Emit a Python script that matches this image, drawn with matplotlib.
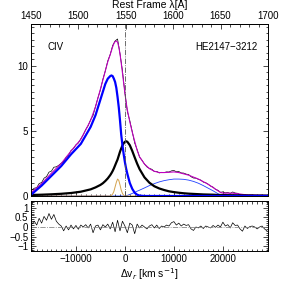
import numpy as np
import matplotlib
matplotlib.use("Agg")
import matplotlib.pyplot as plt
from matplotlib.ticker import MultipleLocator, FixedLocator, FuncFormatter

# ---- donnees ----
c_kms = 299792.458
lam0 = 1549.06  # CIV

v_data = np.arange(-19000, 29001, 500)
flux = [0.45, 0.60, 0.64, 0.96, 1.03, 1.37, 1.49, 1.83, 1.91, 2.21,
        2.24, 2.36, 2.52, 2.64, 2.97, 3.14, 3.49, 3.64, 3.93, 4.07,
        4.39, 4.70, 5.10, 5.40, 5.86, 6.18, 6.87, 7.54, 8.14, 8.95,
        9.60, 10.36, 10.86, 11.55, 11.90, 12.05, 10.92, 9.62, 7.92, 6.48,
        5.78, 4.94, 4.06, 3.56, 2.98, 2.74, 2.45, 2.23, 2.12, 2.05,
        1.88, 1.89, 1.77, 1.82, 1.80, 1.85, 1.84, 1.93, 1.96, 1.86,
        1.88, 1.77, 1.76, 1.68, 1.65, 1.48, 1.38, 1.37, 1.28, 1.22,
        1.07, 1.02, 0.90, 0.76, 0.68, 0.51, 0.44, 0.28, 0.32, 0.24,
        0.27, 0.20, 0.31, 0.23, 0.21, 0.10, 0.03, 0.12, 0.05, 0.08,
        0.08, 0.05, 0.01, 0.05, 0.07, 0.01, -0.03]
resid = [0.15, 0.30, 0.10, 0.45, 0.20, 0.55, 0.35, 0.70, 0.40, 0.65,
         0.30, 0.15, 0.05, -0.20, 0.05, -0.15, 0.10, -0.10, 0.08, -0.12,
         0.10, 0.00, 0.12, -0.05, 0.15, -0.30, 0.05, 0.10, -0.15, 0.12,
         0.00, 0.15, -0.10, 0.25, -0.25, 0.35, -0.20, 0.30, 0.05, -0.30,
         0.20, 0.10, -0.35, 0.15, -0.05, 0.10, 0.00, -0.10, 0.05, 0.12,
         -0.05, 0.10, -0.08, 0.05, 0.00, 0.10, 0.05, 0.22, 0.28, 0.10,
         0.20, 0.05, 0.15, 0.08, 0.12, -0.10, -0.18, 0.00, -0.05, 0.05,
         -0.08, 0.05, 0.00, -0.05, 0.08, -0.02, 0.10, 0.00, 0.25, 0.05,
         0.12, -0.05, 0.22, 0.08, 0.10, -0.10, -0.22, 0.05, -0.08, 0.02,
         0.05, 0.00, -0.10, 0.00, 0.05, -0.10, -0.20]

v_mod = [-19000, -17000, -15000, -13000, -11000, -9000, -7000, -6000, -5000, -4500,
         -4000, -3500, -3000, -2750, -2500, -2250, -2000, -1750, -1500, -1250,
         -1000, -750, -500, -250, 0, 250, 500, 1000, 1500, 2000,
         2500, 3000, 4000, 5000, 6000, 7000, 8000, 9000, 10000, 11000,
         12000, 13000, 14000, 15000, 16000, 17000, 18000, 19000, 19500, 20000,
         22000, 25000, 29000]
broad_blue = [0.15, 0.8, 1.55, 2.3, 3.2, 4.0, 5.3, 6.2, 7.4, 8.0,
              8.6, 9.0, 9.2, 9.25, 9.2, 9.0, 8.75, 8.3, 7.6, 6.8,
              5.8, 4.7, 3.9, 3.2, 2.6, 2.1, 1.7, 1.0, 0.55, 0.25,
              0.1, 0.03, 0, 0, 0, 0, 0, 0, 0, 0,
              0, 0, 0, 0, 0, 0, 0, 0, 0, 0,
              0, 0, 0]
lorentz = [0.08, 0.10, 0.13, 0.17, 0.23, 0.33, 0.51, 0.66, 0.85, 0.98,
           1.15, 1.35, 1.60, 1.75, 1.92, 2.12, 2.35, 2.58, 2.80, 3.10,
           3.40, 3.65, 3.88, 4.05, 4.16, 4.20, 4.16, 3.90, 3.46, 2.96,
           2.48, 2.06, 1.43, 1.02, 0.75, 0.58, 0.46, 0.36, 0.30, 0.25,
           0.21, 0.18, 0.16, 0.14, 0.12, 0.11, 0.10, 0.08, 0.08, 0.07,
           0.06, 0.04, 0.03]
narrow = [0, 0, 0, 0, 0, 0, 0, 0, 0, 0,
          0, 0, 0, 0.05, 0.15, 0.35, 0.70, 1.05, 1.30, 1.20,
          0.85, 0.45, 0.20, 0.06, 0, 0, 0, 0, 0, 0,
          0, 0, 0, 0, 0, 0, 0, 0, 0, 0,
          0, 0, 0, 0, 0, 0, 0, 0, 0, 0,
          0, 0, 0]
red_blue = [0, 0, 0, 0, 0, 0, 0, 0, 0, 0,
            0, 0, 0, 0, 0, 0, 0, 0, 0, 0,
            0, 0, 0, 0, 0, 0.02, 0.05, 0.12, 0.20, 0.28,
            0.37, 0.45, 0.62, 0.80, 0.95, 1.08, 1.18, 1.25, 1.30, 1.30,
            1.28, 1.22, 1.12, 0.98, 0.80, 0.60, 0.40, 0.18, 0.07, 0,
            0, 0, 0]
total = [0.30, 0.95, 1.75, 2.5, 3.45, 4.35, 5.8, 6.85, 8.2, 8.9,
         9.6, 10.3, 10.85, 11.15, 11.45, 11.7, 11.85, 11.9, 11.8, 11.45,
         10.9, 10.2, 9.45, 8.65, 7.9, 7.2, 6.6, 5.7, 4.9, 4.2,
         3.5, 3.0, 2.45, 2.1, 1.9, 1.8, 1.8, 1.82, 1.85, 1.8,
         1.7, 1.6, 1.45, 1.3, 1.1, 0.9, 0.65, 0.4, 0.28, 0.22,
         0.22, 0.08, 0.05]

lam_lim = (1450, 1700)
lam_ticks = [1450, 1500, 1550, 1600, 1650, 1700]
lam_minor = list(range(1460, 1700, 10))

def l2v(l):
    return c_kms * (np.asarray(l) / lam0 - 1.0)

def v2l(v):
    return lam0 * (1.0 + np.asarray(v) / c_kms)

plt.rcParams['font.family'] = ['Liberation Sans', 'DejaVu Sans']
plt.rcParams['font.size'] = 7
plt.rcParams['axes.linewidth'] = 0.7
plt.rcParams['axes.unicode_minus'] = True

fig = plt.figure(figsize=(2.83, 2.83), dpi=100)
ax = fig.add_axes([0.1095, 0.3074, 0.8375, 0.6078])
axr = fig.add_axes([0.1095, 0.113, 0.8375, 0.1767])

xlim = (l2v(lam_lim[0]), l2v(lam_lim[1]))

# panneau du haut
ax.plot(v_data, flux, color='black', lw=0.5)
ax.plot(v_mod, total, color='#c000c0', lw=0.8)
ax.plot(v_mod, red_blue, color='#2040ff', lw=0.6)
ax.plot(v_mod, narrow, color='#d4a24c', lw=0.7)
ax.plot(v_mod, lorentz, color='black', lw=1.6)
ax.plot(v_mod, broad_blue, color='#0000ff', lw=1.6)
ax.axvline(0, color='#555555', lw=0.6, ls='-.')
ax.set_xlim(*xlim)
ax.set_ylim(0, 13.2)
ax.yaxis.set_major_locator(MultipleLocator(5))
ax.yaxis.set_minor_locator(MultipleLocator(0.5))
ax.xaxis.set_major_locator(MultipleLocator(10000))
ax.xaxis.set_minor_locator(MultipleLocator(1000))
ax.tick_params(which='both', direction='in', right=True, top=False, labelbottom=False, pad=2)
ax.tick_params(which='major', length=3.5, width=0.5)
ax.tick_params(which='minor', length=1.8, width=0.5)
ax.text(0.07, 0.85, 'CIV', transform=ax.transAxes, fontsize=7)
ax.text(0.955, 0.85, 'HE2147\u22123212', transform=ax.transAxes, fontsize=7, ha='right')

sec = ax.secondary_xaxis('top', functions=(v2l, l2v))
sec.xaxis.set_major_locator(FixedLocator(lam_ticks))
sec.xaxis.set_minor_locator(FixedLocator(lam_minor))
sec.tick_params(which='both', direction='in', pad=2)
sec.tick_params(which='major', length=3.5, width=0.5)
sec.tick_params(which='minor', length=1.8, width=0.5)
sec.set_xlabel('Rest Frame \u03bb[\u00c5]', fontsize=7.5, labelpad=2)

# residus
axr.plot(v_data, resid, color='black', lw=0.5)
axr.axhline(0, color='#888888', lw=0.6, ls='-.')
axr.set_xlim(*xlim)
axr.set_ylim(-1.25, 1.35)
axr.yaxis.set_major_locator(MultipleLocator(0.5))
axr.yaxis.set_minor_locator(MultipleLocator(0.1))
axr.xaxis.set_major_locator(MultipleLocator(10000))
axr.xaxis.set_minor_locator(MultipleLocator(1000))
axr.yaxis.set_major_formatter(FuncFormatter(lambda y, p: f"{y:g}".replace('-', '\u2212')))
axr.tick_params(which='both', direction='in', right=True, top=True, pad=2)
axr.tick_params(which='major', length=3.5, width=0.5)
axr.tick_params(which='minor', length=1.8, width=0.5)
axr.set_xlabel('\u0394v$_r$ [km s$^{-1}$]', fontsize=7.5, labelpad=2)

fig.savefig('out.png', dpi=100)
